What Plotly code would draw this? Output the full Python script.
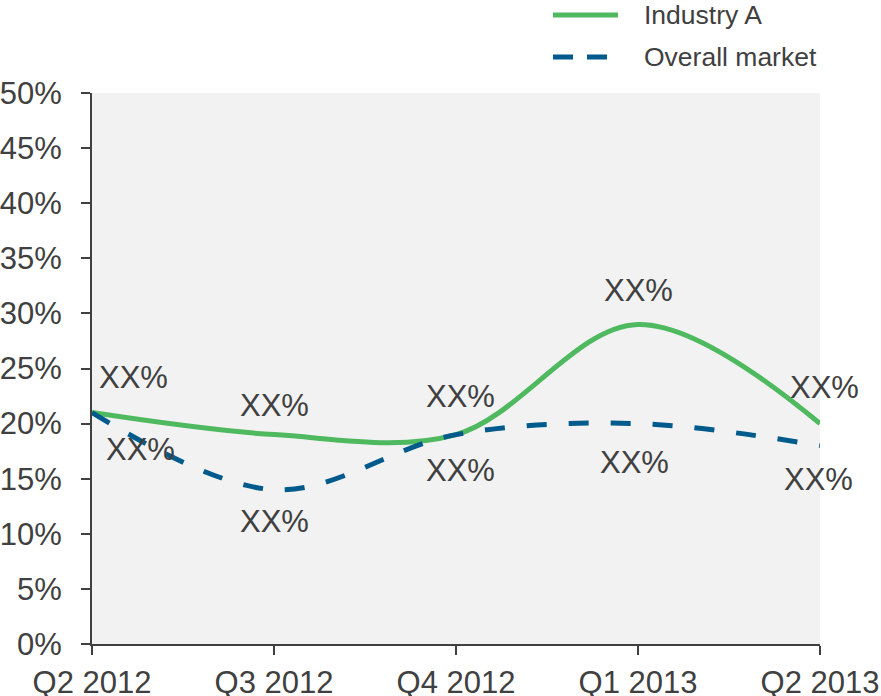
import plotly.graph_objects as go

quarters = ["Q2 2012", "Q3 2012", "Q4 2012", "Q1 2013", "Q2 2013"]
industry_a = [0.21, 0.19, 0.19, 0.29, 0.20]
overall = [0.21, 0.14, 0.19, 0.20, 0.18]
labels_a = ["XX%", "XX%", "XX%", "XX%", "XX%"]
labels_o = ["XX%", "XX%", "XX%", "XX%", "XX%"]
y_ticks = [0, 0.05, 0.10, 0.15, 0.20, 0.25, 0.30, 0.35, 0.40, 0.45, 0.50]

GREEN = "#4FB95F"
BLUE = "#005A8C"
TXT = "#404040"
FONT = "Liberation Sans, Arial, sans-serif"

fig = go.Figure()
fig.add_trace(go.Scatter(x=quarters, y=industry_a, mode="lines", name="Industry A",
                         line=dict(color=GREEN, width=5, shape="spline", smoothing=1),
                         showlegend=False))
fig.add_trace(go.Scatter(x=quarters, y=overall, mode="lines", name="Overall market",
                         line=dict(color=BLUE, width=5, shape="spline", smoothing=1,
                                   dash="20px,22px"),
                         showlegend=False))

ann = []
xs_a = [41, 0, 4, 0, 4]
ys_a = [35, 29, 38, 34, 36]
xs_o = [48, 0, 4, -4, -2]
ys_o = [-37, -32, -36, -39, -34]
for i, q in enumerate(quarters):
    ann.append(dict(x=q, y=industry_a[i], text=labels_a[i], showarrow=False,
                    xshift=xs_a[i], yshift=ys_a[i],
                    font=dict(size=31, color=TXT, family=FONT)))
    ann.append(dict(x=q, y=overall[i], text=labels_o[i], showarrow=False,
                    xshift=xs_o[i], yshift=ys_o[i],
                    font=dict(size=31, color=TXT, family=FONT)))

# manual legend
shapes = [
    dict(type="line", xref="paper", yref="paper", x0=(553-92)/728, x1=(618-92)/728,
         y0=1 + (93-15)/551, y1=1 + (93-15)/551, line=dict(color=GREEN, width=5)),
    dict(type="line", xref="paper", yref="paper", x0=(553-92)/728, x1=(618-92)/728,
         y0=1 + (93-57)/551, y1=1 + (93-57)/551, line=dict(color=BLUE, width=5, dash="20px,14px")),
]
ann.append(dict(xref="paper", yref="paper", x=(642-92)/728, y=1 + (93-15)/551,
                text="Industry A", showarrow=False, xanchor="left", yanchor="middle",
                font=dict(size=26.5, color=TXT, family=FONT)))
ann.append(dict(xref="paper", yref="paper", x=(642-92)/728, y=1 + (93-57)/551,
                text="Overall market", showarrow=False, xanchor="left", yanchor="middle",
                font=dict(size=26.5, color=TXT, family=FONT)))

fig.update_layout(
    width=881, height=696,
    margin=dict(l=92, r=61, t=93, b=52),
    paper_bgcolor="white",
    plot_bgcolor="#F2F2F2",
    showlegend=False,
    annotations=ann,
    shapes=shapes,
    font=dict(family=FONT, color=TXT),
    xaxis=dict(type="category", range=[0, 4], showgrid=False, zeroline=False,
               automargin=False,
               showline=True, linecolor=TXT, linewidth=2,
               ticks="outside", ticklen=9, tickwidth=2, tickcolor=TXT,
               ticklabelstandoff=1,
               tickfont=dict(size=31, color=TXT, family=FONT)),
    yaxis=dict(range=[0, 0.5], tickvals=y_ticks, tickformat=".0%", showgrid=False,
               automargin=False,
               zeroline=False, showline=True, linecolor=TXT, linewidth=2,
               ticks="outside", ticklen=9, tickwidth=2, tickcolor=TXT,
               ticklabelstandoff=13,
               tickfont=dict(size=31, color=TXT, family=FONT)),
)

fig.write_html("out.html", config={"displayModeBar": False},
               post_script="document.body.style.margin='0';document.body.style.overflow='hidden';")
